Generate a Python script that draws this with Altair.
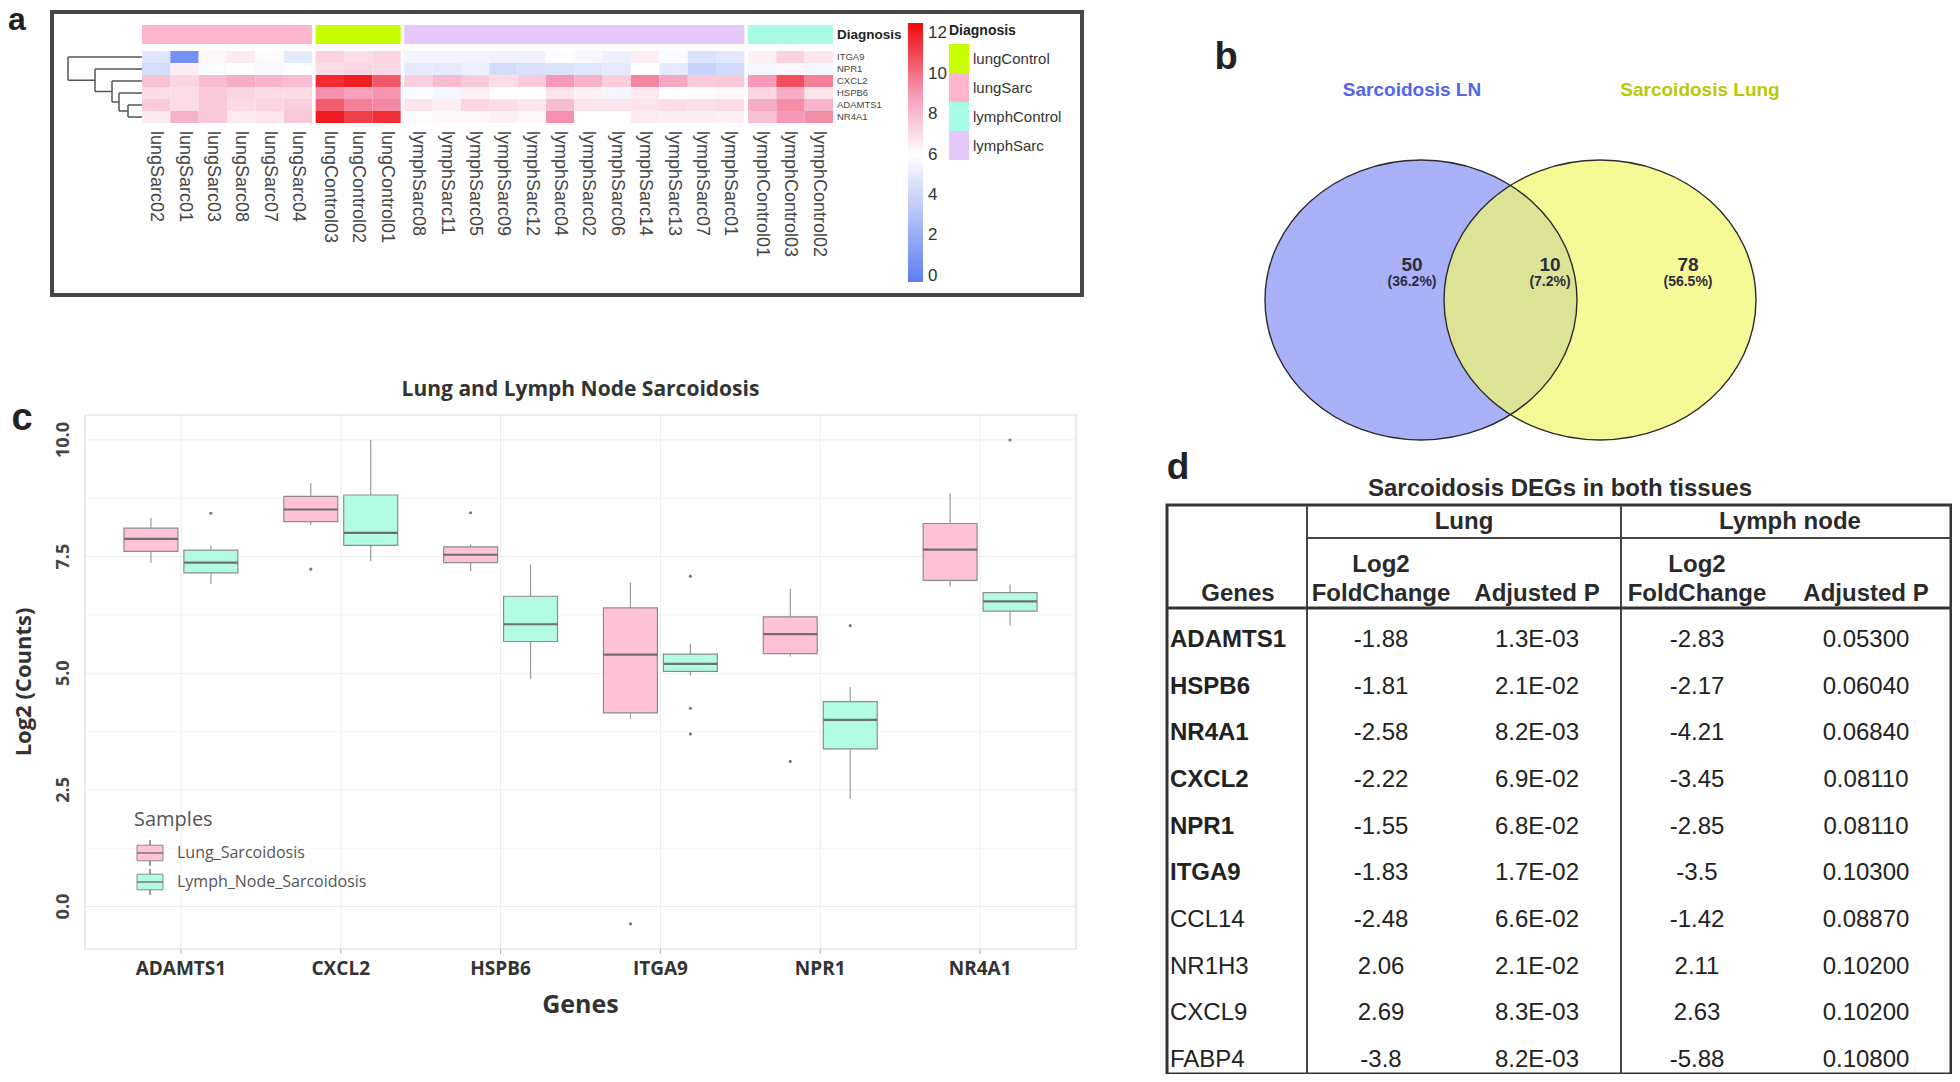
import altair as alt
import pandas as pd

# ======================= DATA =======================
# ---- Panel a : heatmap ----
hm_genes = ["ITGA9", "NPR1", "CXCL2", "HSPB6", "ADAMTS1", "NR4A1"]
hm_samples = ["lungSarc02", "lungSarc01", "lungSarc03", "lungSarc08", "lungSarc07", "lungSarc04",
              "lungControl03", "lungControl02", "lungControl01",
              "lymphSarc08", "lymphSarc11", "lymphSarc05", "lymphSarc09", "lymphSarc12", "lymphSarc04",
              "lymphSarc02", "lymphSarc06", "lymphSarc14", "lymphSarc13", "lymphSarc07", "lymphSarc01",
              "lymphControl01", "lymphControl03", "lymphControl02"]
hm_groups = ["lungSarc"] * 6 + ["lungControl"] * 3 + ["lymphSarc"] * 12 + ["lymphControl"] * 3
expr_ITGA9 = [4.8, 0.6, 6.2, 6.6, 6.1, 5.0, 7.3, 7.0, 7.2,
              5.5, 5.5, 5.5, 5.4, 5.4, 5.9, 5.7, 5.3, 6.5, 5.8, 4.6, 4.9, 6.4, 7.3, 6.7]
expr_NPR1 = [4.3, 6.5, 5.8, 6.0, 5.7, 6.0, 7.0, 7.2, 7.1,
             5.0, 5.0, 5.3, 4.3, 4.5, 4.6, 4.8, 5.0, 6.0, 5.0, 3.8, 4.2, 5.6, 6.2, 5.6]
expr_CXCL2 = [7.8, 7.2, 8.0, 8.4, 8.2, 7.9, 11.7, 12.0, 10.6,
              7.4, 8.0, 7.5, 7.0, 7.5, 9.0, 8.3, 7.4, 9.5, 8.6, 7.5, 7.6, 9.0, 10.8, 9.6]
expr_HSPB6 = [7.0, 7.0, 7.6, 7.2, 7.0, 7.0, 9.2, 8.8, 9.1,
              5.8, 5.6, 6.4, 6.0, 6.0, 6.8, 6.4, 5.6, 6.6, 6.0, 6.1, 6.2, 7.2, 8.4, 6.8]
expr_ADAMTS1 = [7.5, 7.0, 7.6, 7.1, 7.2, 7.4, 10.5, 9.6, 9.4,
                6.8, 6.5, 7.2, 7.0, 6.7, 8.0, 6.8, 6.8, 6.8, 7.0, 6.9, 7.0, 8.4, 9.3, 8.2]
expr_NR4A1 = [6.6, 8.3, 7.6, 6.6, 6.8, 7.6, 12.0, 11.2, 11.6,
              6.1, 6.2, 6.2, 6.4, 6.2, 9.2, 6.0, 6.0, 6.6, 6.5, 6.5, 6.4, 7.8, 9.0, 9.3]
diag_order = ["lungControl", "lungSarc", "lymphControl", "lymphSarc"]
diag_colors = ["#C8FF00", "#FFB6CA", "#A8FCE6", "#E6C9FA"]
cbar_ticks = [0, 2, 4, 6, 8, 10, 12]
dend_left = ["ADAMTS1", "HSPB6", "CXCL2", "NPR1", "ITGA9"]
dend_right = ["NR4A1", 0, 1, 2, 3]          # ints = earlier merge
dend_height = [14, 23, 30, 47, 74]

# ---- Panel b : Venn ----
venn_sets = ["Sarcoidosis LN", "Sarcoidosis Lung"]
venn_regions = ["LN only", "both", "Lung only"]
venn_counts = ["50", "10", "78"]
venn_pcts = ["(36.2%)", "(7.2%)", "(56.5%)"]

# ---- Panel c : boxplots ----
box_genes = ["ADAMTS1", "CXCL2", "HSPB6", "ITGA9", "NPR1", "NR4A1"]
box_samples = ["Lung_Sarcoidosis", "Lymph_Node_Sarcoidosis"]
lung_lo = [7.37, 8.18, 7.19, 4.02, 5.36, 6.86]
lung_q1 = [7.61, 8.25, 7.37, 4.15, 5.42, 6.99]
lung_med = [7.88, 8.51, 7.54, 5.40, 5.84, 7.65]
lung_q3 = [8.11, 8.79, 7.71, 6.40, 6.21, 8.21]
lung_hi = [8.33, 9.08, 7.76, 6.94, 6.81, 8.85]
lymph_lo = [6.92, 7.40, 4.88, 4.95, 2.31, 6.02]
lymph_q1 = [7.15, 7.74, 5.68, 5.04, 3.38, 6.33]
lymph_med = [7.37, 8.01, 6.05, 5.20, 4.00, 6.54]
lymph_q3 = [7.64, 8.82, 6.65, 5.41, 4.39, 6.73]
lymph_hi = [7.74, 10.0, 7.33, 5.63, 4.70, 6.90]
out_gene = ["CXCL2", "HSPB6", "ITGA9", "NPR1", "ADAMTS1", "ITGA9", "ITGA9", "ITGA9", "NPR1", "NR4A1"]
out_sample = ["Lung_Sarcoidosis"] * 4 + ["Lymph_Node_Sarcoidosis"] * 6
out_value = [7.23, 8.44, -0.37, 3.11, 8.43, 7.08, 4.25, 3.70, 6.02, 10.0]
y_major = [0.0, 2.5, 5.0, 7.5, 10.0]
y_major_labels = ["0.0", "2.5", "5.0", "7.5", "10.0"]
y_minor = [1.25, 3.75, 6.25, 8.75]
box_fill = ["#FFC2D6", "#B2FCE4"]

# ---- Panel d : table ----
tbl_genes = ["ADAMTS1", "HSPB6", "NR4A1", "CXCL2", "NPR1", "ITGA9", "CCL14", "NR1H3", "CXCL9", "FABP4"]
tbl_lung_fc = ["-1.88", "-1.81", "-2.58", "-2.22", "-1.55", "-1.83", "-2.48", "2.06", "2.69", "-3.8"]
tbl_lung_p = ["1.3E-03", "2.1E-02", "8.2E-03", "6.9E-02", "6.8E-02", "1.7E-02", "6.6E-02", "2.1E-02", "8.3E-03", "8.2E-03"]
tbl_ln_fc = ["-2.83", "-2.17", "-4.21", "-3.45", "-2.85", "-3.5", "-1.42", "2.11", "2.63", "-5.88"]
tbl_ln_p = ["0.05300", "0.06040", "0.06840", "0.08110", "0.08110", "0.10300", "0.08870", "0.10200", "0.10200", "0.10800"]

# ======================= HELPERS =======================
W, H = 1944, 1066
def P(v):            # page pixel -> chart pixel (8px page margin)
    return v - 8

ARIAL = "Liberation Sans, Arial, sans-serif"
OPEN = "Open Sans, sans-serif"
one = pd.DataFrame({"k": [0]})

def txt(text, x, y, size, color="#222", weight="normal", font=ARIAL, align="center",
        baseline="middle", angle=0):
    return alt.Chart(pd.DataFrame({"t": [text]})).mark_text(
        fontSize=size, color=color, fontWeight=weight, font=font, align=align,
        baseline=baseline, angle=angle).encode(
        x=alt.value(P(x)), y=alt.value(P(y)), text="t:N")

def box(x1, y1, x2, y2, color, width):
    return alt.Chart(one).mark_rect(fillOpacity=0, stroke=color, strokeWidth=width).encode(
        x=alt.value(P(x1)), x2=alt.value(P(x2)), y=alt.value(P(y1)), y2=alt.value(P(y2)))

def hline(x1, x2, y, color, width):
    return alt.Chart(one).mark_rule(color=color, strokeWidth=width).encode(
        x=alt.value(P(x1)), x2=alt.value(P(x2)), y=alt.value(P(y)))

def vline(x, y1, y2, color, width):
    return alt.Chart(one).mark_rule(color=color, strokeWidth=width).encode(
        x=alt.value(P(x)), y=alt.value(P(y1)), y2=alt.value(P(y2)))

layers = []

# ======================= PANEL A =======================
GAP = 0.125
grp_seq = ["lungSarc", "lungControl", "lymphSarc", "lymphControl"]
expr = {"ITGA9": expr_ITGA9, "NPR1": expr_NPR1, "CXCL2": expr_CXCL2,
        "HSPB6": expr_HSPB6, "ADAMTS1": expr_ADAMTS1, "NR4A1": expr_NR4A1}
hm_rows, col_rows = [], []
for si, s in enumerate(hm_samples):
    g = grp_seq.index(hm_groups[si])
    x0 = si + GAP * g
    col_rows.append(dict(sample=s, xc=x0 + 0.5))
    for gi, gene in enumerate(hm_genes):
        hm_rows.append(dict(gene=gene, sample=s, value=expr[gene][si], x0=x0, x1=x0 + 1,
                            r0=gi, r1=gi + 1))
hm_df = pd.DataFrame(hm_rows)
col_df = pd.DataFrame(col_rows)
ann_rows = []
for g, name in enumerate(grp_seq):
    idx = [i for i, gg in enumerate(hm_groups) if gg == name]
    ann_rows.append(dict(group=name, g0=min(idx) + GAP * g, g1=max(idx) + 1 + GAP * g))
ann_df = pd.DataFrame(ann_rows)

hx = alt.Scale(domain=[0, len(hm_samples) + GAP * 3], range=[P(142), P(833)], nice=False, zero=False)
ry = alt.Scale(domain=[0, len(hm_genes)], range=[P(51), P(123)], nice=False, zero=False)
diag_scale = alt.Scale(domain=diag_order, range=diag_colors)

layers.append(box(52, 12, 1082, 295, "#474747", 4))
layers.append(txt("a", 17, 30, 32, weight="bold", color="#222", baseline="alphabetic"))

layers.append(alt.Chart(ann_df).mark_rect().encode(
    x=alt.X("g0:Q", scale=hx, axis=None), x2="g1:Q",
    y=alt.value(P(25)), y2=alt.value(P(44)),
    color=alt.Color("group:N", scale=diag_scale, legend=None)))

layers.append(alt.Chart(hm_df).mark_rect().encode(
    x=alt.X("x0:Q", scale=hx, axis=None), x2="x1:Q",
    y=alt.Y("r0:Q", scale=ry, axis=None), y2="r1:Q",
    color=alt.Color("value:Q",
                    scale=alt.Scale(domain=[-0.3, 6, 9, 12.5],
                                    range=["#5D7EF2", "#FFFFFF", "#F599B7", "#EE0A0A"],
                                    interpolate="rgb"),
                    legend=alt.Legend(orient="none", legendX=P(908), legendY=P(23),
                                      direction="vertical", gradientLength=259,
                                      gradientThickness=15, values=cbar_ticks,
                                      labelFontSize=17, labelFont=ARIAL, labelColor="#333",
                                      labelOffset=5, title=None, gradientStrokeWidth=0,
                                      padding=0, tickCount=7))))

row_df = pd.DataFrame({"gene": hm_genes, "rc": [i + 0.5 for i in range(len(hm_genes))]})
layers.append(alt.Chart(row_df).mark_text(align="left", baseline="middle", fontSize=9.5,
                                          font=ARIAL, color="#444").encode(
    x=alt.value(P(837)), y=alt.Y("rc:Q", scale=ry, axis=None), text="gene:N"))
layers.append(txt("Diagnosis", 837, 35, 13.5, weight="bold", align="left"))

layers.append(alt.Chart(col_df).mark_text(angle=90, align="left", baseline="middle",
                                          fontSize=18, font=ARIAL, color="#444").encode(
    x=alt.X("xc:Q", scale=hx, axis=None), y=alt.value(P(131)), text="sample:N"))

# dendrogram
pos = {g: (i + 0.5, 0.0) for i, g in enumerate(hm_genes)}
nodes, segs = [], []
for a, b, h in zip(dend_left, dend_right, dend_height):
    ya, ha = pos[a] if isinstance(a, str) else nodes[a]
    yb, hb = pos[b] if isinstance(b, str) else nodes[b]
    segs.append(dict(h0=h, h1=h, y0=ya, y1=yb))
    segs.append(dict(h0=ha, h1=h, y0=ya, y1=ya))
    segs.append(dict(h0=hb, h1=h, y0=yb, y1=yb))
    nodes.append(((ya + yb) / 2, h))
seg_df = pd.DataFrame(segs)
dxs = alt.Scale(domain=[0, max(dend_height)], range=[P(142), P(68)], nice=False, zero=False)
layers.append(alt.Chart(seg_df).mark_rule(color="#555", strokeWidth=1.5).encode(
    x=alt.X("h0:Q", scale=dxs, axis=None), x2="h1:Q",
    y=alt.Y("y0:Q", scale=ry, axis=None), y2="y1:Q"))

# diagnosis legend
diag_df = pd.DataFrame({"group": diag_order})
dgy = alt.Scale(domain=diag_order, range=[P(44), P(160)], paddingInner=0, paddingOuter=0)
layers.append(alt.Chart(diag_df).mark_rect().encode(
    x=alt.value(P(949)), x2=alt.value(P(969)),
    y=alt.Y("group:N", scale=dgy, axis=None),
    color=alt.Color("group:N", scale=diag_scale, legend=None)))
layers.append(alt.Chart(diag_df).mark_text(align="left", baseline="middle", fontSize=15,
                                           font=ARIAL, color="#333").encode(
    x=alt.value(P(973)), y=alt.Y("group:N", scale=dgy, axis=None, bandPosition=0.5),
    text="group:N"))
layers.append(txt("Diagnosis", 949, 31, 14, weight="bold", align="left"))

# ======================= PANEL B =======================
ELL = ("M -1 0 C -1 -0.495 -0.5523 -0.897 0 -0.897 C 0.5523 -0.897 1 -0.495 1 0 "
       "C 1 0.495 0.5523 0.897 0 0.897 C -0.5523 0.897 -1 0.495 -1 0 Z")
ELL_W = 312
venn_df = pd.DataFrame({"set": venn_sets})
vx = alt.Scale(domain=venn_sets, range=[P(1421), P(1600)], padding=0)
VY = 300
layers.append(alt.Chart(venn_df).mark_point(shape=ELL, size=ELL_W ** 2, filled=True,
                                            strokeWidth=0).encode(
    x=alt.X("set:N", scale=vx, axis=None), y=alt.value(P(VY)),
    color=alt.Color("set:N", scale=alt.Scale(domain=venn_sets, range=["#A9B1F9", "#F1F76E"]),
                    legend=None),
    opacity=alt.Opacity("set:N", scale=alt.Scale(domain=venn_sets, range=[1.0, 0.72]),
                        legend=None)))
layers.append(alt.Chart(venn_df).mark_point(shape=ELL, size=ELL_W ** 2, filled=False,
                                            color="#2b2b2b", strokeWidth=1.4, opacity=1).encode(
    x=alt.X("set:N", scale=vx, axis=None), y=alt.value(P(VY))))
vt = alt.Scale(domain=venn_sets, range=[P(1412), P(1700)], padding=0)
layers.append(alt.Chart(venn_df).mark_text(fontSize=19, fontWeight="bold", font=ARIAL).encode(
    x=alt.X("set:N", scale=vt, axis=None), y=alt.value(P(90)), text="set:N",
    color=alt.Color("set:N", scale=alt.Scale(domain=venn_sets, range=["#5264F0", "#B9C80A"]),
                    legend=None)))
reg_df = pd.DataFrame({"region": venn_regions, "count": venn_counts, "pct": venn_pcts})
vr = alt.Scale(domain=venn_regions, range=[P(1412), P(1688)], padding=0)
layers.append(alt.Chart(reg_df).mark_text(fontSize=19, fontWeight="bold", font=ARIAL,
                                          color="#2c2c3c").encode(
    x=alt.X("region:N", scale=vr, axis=None), y=alt.value(P(265)), text="count:N"))
layers.append(alt.Chart(reg_df).mark_text(fontSize=14, fontWeight="bold", font=ARIAL,
                                          color="#2c2c3c").encode(
    x=alt.X("region:N", scale=vr, axis=None), y=alt.value(P(282)), text="pct:N"))
layers.append(txt("b", 1226, 69, 38, weight="bold", color="#222", baseline="alphabetic"))

# ======================= PANEL C =======================
PL, PR, PT, PB = 85, 1076, 415, 949
box_rows = []
for i, g in enumerate(box_genes):
    box_rows.append(dict(gene=g, sample=box_samples[0], lo=lung_lo[i], q1=lung_q1[i],
                         med=lung_med[i], q3=lung_q3[i], hi=lung_hi[i]))
    box_rows.append(dict(gene=g, sample=box_samples[1], lo=lymph_lo[i], q1=lymph_q1[i],
                         med=lymph_med[i], q3=lymph_q3[i], hi=lymph_hi[i]))
box_df = pd.DataFrame(box_rows)
out_df = pd.DataFrame({"gene": out_gene, "sample": out_sample, "value": out_value})
bx = alt.Scale(type="band", domain=box_genes, range=[P(PL), P(PR)], paddingInner=0, paddingOuter=0.1)
bxo = alt.Scale(type="band", domain=box_samples, paddingInner=0.1, paddingOuter=0.383)
by = alt.Scale(domain=[-0.91, 10.535], range=[P(PB), P(PT)], nice=False, zero=False)
fill_scale = alt.Scale(domain=box_samples, range=box_fill)

layers.append(txt("c", 22, 430, 38, weight="bold", color="#222", baseline="alphabetic"))
layers.append(txt("Lung and Lymph Node Sarcoidosis", (PL + PR) / 2, 390, 21, weight="bold",
                  font=OPEN, color="#333"))

# grid
layers.append(alt.Chart(pd.DataFrame({"v": y_minor})).mark_rule(color="#F6F6F6", strokeWidth=1).encode(
    x=alt.value(P(PL)), x2=alt.value(P(PR)), y=alt.Y("v:Q", scale=by, axis=None)))
layers.append(alt.Chart(pd.DataFrame({"v": y_major})).mark_rule(color="#EDEDED", strokeWidth=1).encode(
    x=alt.value(P(PL)), x2=alt.value(P(PR)), y=alt.Y("v:Q", scale=by, axis=None)))
gene_df = pd.DataFrame({"gene": box_genes})
layers.append(alt.Chart(gene_df).mark_rule(color="#EDEDED", strokeWidth=1).encode(
    x=alt.X("gene:N", scale=bx, axis=None, bandPosition=0.5),
    y=alt.value(P(PT)), y2=alt.value(P(PB))))
layers.append(box(PL, PT, PR, PB, "#DDDDDD", 1.2))
layers.append(alt.Chart(gene_df).mark_rule(color="#BBBBBB", strokeWidth=1.2).encode(
    x=alt.X("gene:N", scale=bx, axis=None, bandPosition=0.5),
    y=alt.value(P(PB)), y2=alt.value(P(PB + 5))))

# boxes
layers.append(alt.Chart(box_df).mark_rule(color="#9A9A9A", strokeWidth=1.2).encode(
    x=alt.X("gene:N", scale=bx, axis=None), xOffset=alt.XOffset("sample:N", scale=bxo),
    y=alt.Y("lo:Q", scale=by, axis=None), y2="hi:Q"))
layers.append(alt.Chart(box_df).mark_bar(stroke="#8C8C8C", strokeWidth=1.2, opacity=1).encode(
    x=alt.X("gene:N", scale=bx, axis=None), xOffset=alt.XOffset("sample:N", scale=bxo),
    y=alt.Y("q1:Q", scale=by, axis=None), y2="q3:Q",
    color=alt.Color("sample:N", scale=fill_scale, legend=None)))
layers.append(alt.Chart(box_df).mark_tick(color="#6E6E6E", thickness=2.2, size=54,
                                          orient="horizontal", opacity=1).encode(
    x=alt.X("gene:N", scale=bx, axis=None), xOffset=alt.XOffset("sample:N", scale=bxo),
    y=alt.Y("med:Q", scale=by, axis=None)))
layers.append(alt.Chart(out_df).mark_circle(size=10, color="#7A7A7A", opacity=1).encode(
    x=alt.X("gene:N", scale=bx, axis=None), xOffset=alt.XOffset("sample:N", scale=bxo),
    y=alt.Y("value:Q", scale=by, axis=None)))

# axes text
layers.append(alt.Chart(pd.DataFrame({"v": y_major, "lab": y_major_labels})).mark_text(
    angle=270, fontSize=18, fontWeight="bold", font=OPEN, color="#444").encode(
    x=alt.value(P(64)), y=alt.Y("v:Q", scale=by, axis=None), text="lab:N"))
layers.append(alt.Chart(gene_df).mark_text(fontSize=19, fontWeight="bold", font=OPEN,
                                           color="#333").encode(
    x=alt.X("gene:N", scale=bx, axis=None, bandPosition=0.5), y=alt.value(P(969)), text="gene:N"))
layers.append(txt("Genes", (PL + PR) / 2, 1005, 25, weight="bold", font=OPEN, color="#333"))
layers.append(txt("Log2 (Counts)", 24, (PT + PB) / 2, 22, weight="bold", font=OPEN,
                  color="#333", angle=270))

# legend
KEY_BOX = "M -1 -0.6 L 1 -0.6 L 1 0.6 L -1 0.6 Z"
KEY_LINES = "M -1 0 L 1 0 M 0 -0.6 L 0 -1 M 0 0.6 L 0 1"
samp_df = pd.DataFrame({"sample": box_samples})
ky = alt.Scale(domain=box_samples, range=[P(853), P(882)], padding=0)
layers.append(txt("Samples", 134, 820, 20, font=OPEN, color="#555", align="left"))
layers.append(alt.Chart(samp_df).mark_point(shape=KEY_BOX, size=676, filled=True,
                                            stroke="#8C8C8C", strokeWidth=1, opacity=1).encode(
    x=alt.value(P(150)), y=alt.Y("sample:N", scale=ky, axis=None),
    color=alt.Color("sample:N", scale=fill_scale, legend=None)))
layers.append(alt.Chart(samp_df).mark_point(shape=KEY_LINES, size=676, filled=False,
                                            color="#777", strokeWidth=1.4, opacity=1).encode(
    x=alt.value(P(150)), y=alt.Y("sample:N", scale=ky, axis=None)))
layers.append(alt.Chart(samp_df).mark_text(align="left", fontSize=16, font=OPEN,
                                           color="#555").encode(
    x=alt.value(P(177)), y=alt.Y("sample:N", scale=ky, axis=None), text="sample:N"))

# ======================= PANEL D =======================
TL, TR, TT = 1167, 1951, 505
TB = H + 8
D1, D2 = 1307, 1621
TF = 24
layers.append(txt("d", 1178, 479, 37, weight="bold", color="#222", baseline="alphabetic"))
layers.append(txt("Sarcoidosis DEGs in both tissues", 1560, 489, TF, weight="bold",
                  color="#2a2a2a"))
layers.append(box(TL, TT, TR, TB, "#333333", 3))
layers.append(hline(D1, TR, 538, "#444444", 2))
layers.append(hline(TL, TR, 608, "#333333", 3))
layers.append(vline(D1, TT, TB, "#444444", 2))
layers.append(vline(D2, TT, TB, "#444444", 2))
for t, x, y in [("Lung", 1464, 522), ("Lymph node", 1790, 522), ("Genes", 1238, 594),
                ("Log2", 1381, 565), ("FoldChange", 1381, 594), ("Adjusted P", 1537, 594),
                ("Log2", 1697, 565), ("FoldChange", 1697, 594), ("Adjusted P", 1866, 594)]:
    layers.append(txt(t, x, y, TF, weight="bold", color="#2a2a2a"))

tbl_df = pd.DataFrame({"gene": tbl_genes, "lfc": tbl_lung_fc, "lp": tbl_lung_p,
                       "nfc": tbl_ln_fc, "np": tbl_ln_p})
tbl_df["bold"] = tbl_df["gene"].isin(box_genes)
ty = alt.Scale(domain=tbl_genes, range=[P(640), P(1060)], padding=0)
base_t = alt.Chart(tbl_df)
layers.append(base_t.transform_filter("datum.bold").mark_text(
    align="left", fontSize=TF, fontWeight="bold", font=ARIAL, color="#222").encode(
    x=alt.value(P(1170)), y=alt.Y("gene:N", scale=ty, axis=None), text="gene:N"))
layers.append(base_t.transform_filter("!datum.bold").mark_text(
    align="left", fontSize=TF, font=ARIAL, color="#222").encode(
    x=alt.value(P(1170)), y=alt.Y("gene:N", scale=ty, axis=None), text="gene:N"))
for field, x in [("lfc", 1381), ("lp", 1537), ("nfc", 1697), ("np", 1866)]:
    layers.append(base_t.mark_text(fontSize=TF, font=ARIAL, color="#222").encode(
        x=alt.value(P(x)), y=alt.Y("gene:N", scale=ty, axis=None), text=f"{field}:N"))

chart = alt.layer(*layers).resolve_scale(
    x="independent", y="independent", color="independent", opacity="independent",
    xOffset="independent").properties(
    width=W, height=H, autosize="none", padding=0).configure_view(stroke=None)

chart.save("out.html", embed_options={"renderer": "svg", "actions": False})
